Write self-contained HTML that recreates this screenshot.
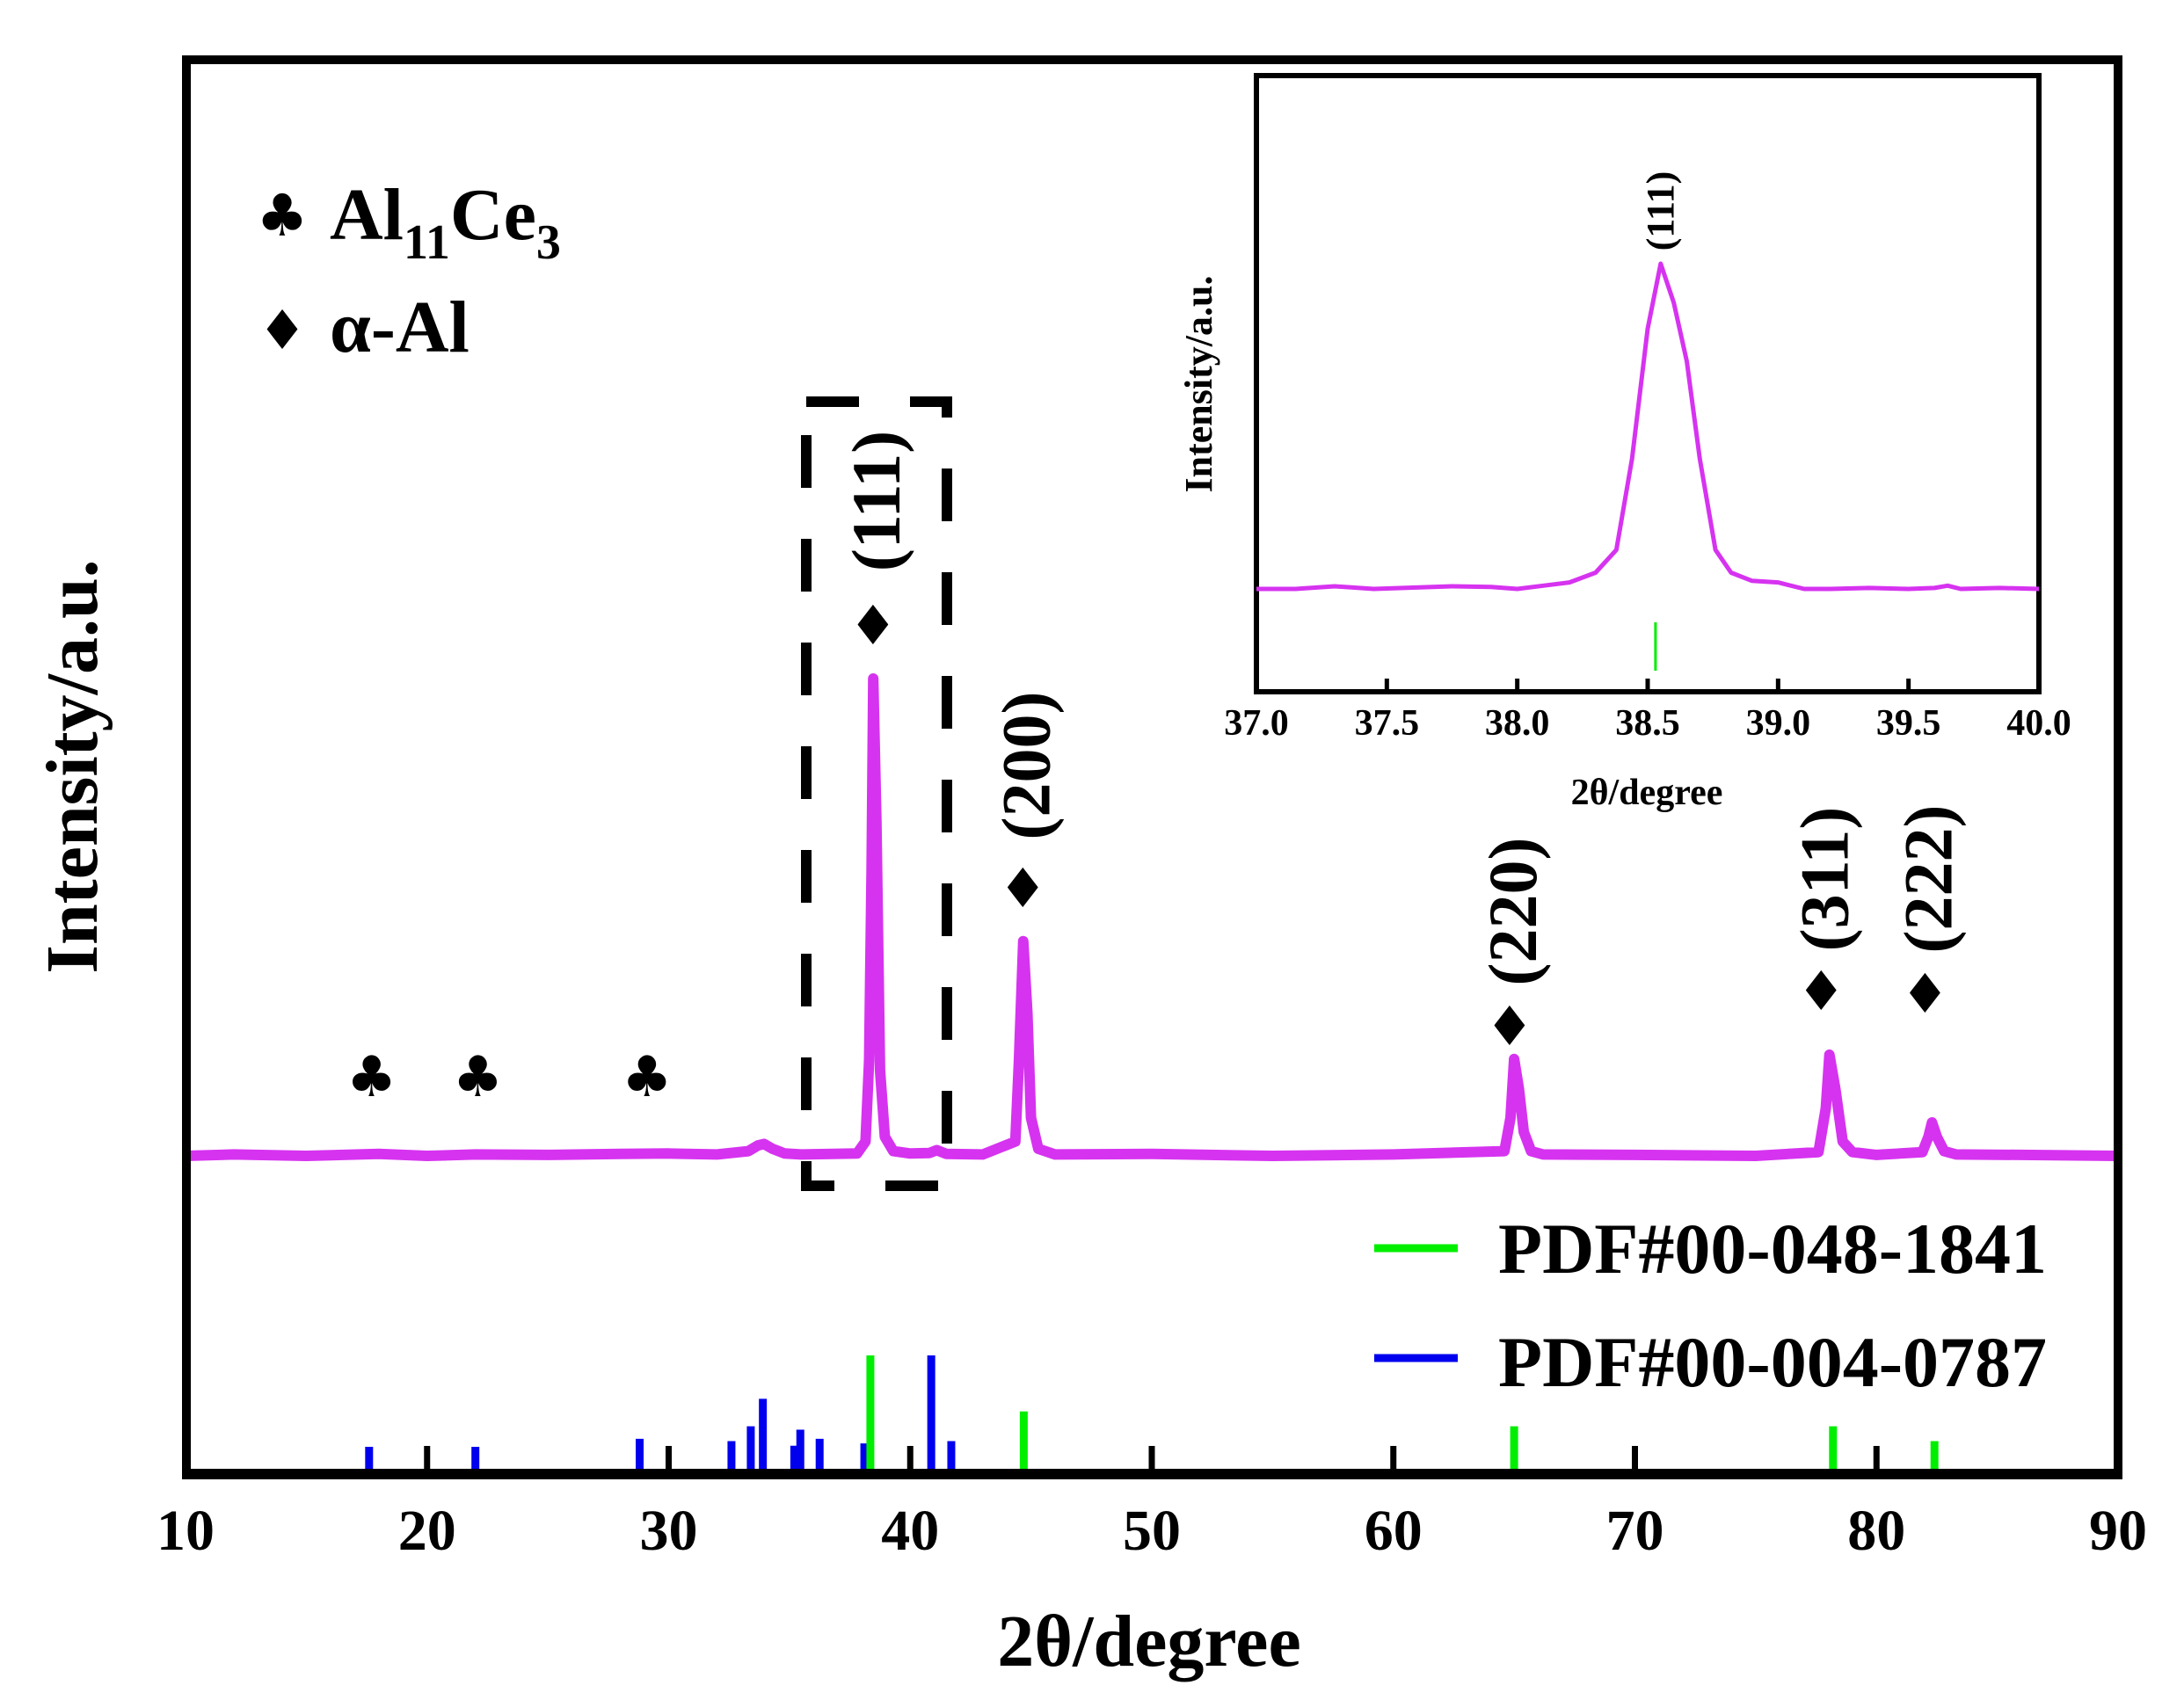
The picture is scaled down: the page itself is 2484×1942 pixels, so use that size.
<!DOCTYPE html>
<html><head><meta charset="utf-8"><style>
html,body{margin:0;padding:0;background:#fff;}
svg{display:block;}
text{font-family:"Liberation Serif",serif;font-weight:bold;fill:#000;}
</style></head><body>
<svg id="chart" width="2484" height="1942" viewBox="0 0 2484 1942" xmlns="http://www.w3.org/2000/svg">
<rect x="0" y="0" width="2484" height="1942" fill="#fff"/>
<g id="plot"></g>
<rect x="212" y="68" width="2197" height="1609" fill="none" stroke="#000" stroke-width="10"/>
<line x1="207" y1="1677" x2="2414" y2="1677" stroke="#000" stroke-width="12"/>
<g id="xticks"></g>
<text x="1307" y="1895" font-size="84" text-anchor="middle">2θ/degree</text>
<text transform="translate(110,872) rotate(-90)" font-size="84" text-anchor="middle">Intensity/a.u.</text>
<rect x="917" y="457" width="160" height="892" fill="none" stroke="#000" stroke-width="12" stroke-dasharray="60,58"/>
<g>
<text x="321" y="268" font-size="66" text-anchor="middle" style="font-family:'DejaVu Sans',sans-serif">♣</text>
<text x="375" y="272" font-size="84">Al<tspan font-size="56" dy="22">11</tspan><tspan dy="-22">Ce</tspan><tspan font-size="56" dy="22">3</tspan></text>
<text x="321" y="397" font-size="62" text-anchor="middle" style="font-family:'DejaVu Sans',sans-serif">♦</text>
<text x="375" y="400" font-size="84">α-Al</text>
</g>
<g>
<line x1="1563" y1="1420" x2="1658" y2="1420" stroke="#00ee00" stroke-width="9"/>
<text x="1704" y="1448" font-size="82">PDF#00-048-1841</text>
<line x1="1563" y1="1545" x2="1658" y2="1545" stroke="#0000ee" stroke-width="9"/>
<text x="1704" y="1577" font-size="82">PDF#00-004-0787</text>
</g>
<g id="labels"></g>
<rect x="1429" y="86" width="890" height="701" fill="#fff" stroke="#000" stroke-width="6"/>
<g id="inset"></g>
<text x="1873" y="915" font-size="42" text-anchor="middle">2θ/degree</text>
<text transform="translate(1378,437) rotate(-90)" font-size="44" text-anchor="middle">Intensity/a.u.</text>
</svg>
<script>
const NS="http://www.w3.org/2000/svg";
const mainX=[10,12,15,18,20,22,25,28,30,32,33.3,33.7,33.95,34.3,34.8,35.5,37.8,38.15,38.3,38.4,38.47,38.6,38.75,38.95,39.3,40,40.8,41.1,41.5,43,44.35,44.5,44.68,44.85,45.0,45.3,46,50,55,60,64.6,64.85,65.0,65.2,65.4,65.7,66.2,70,75,77.6,77.9,78.05,78.3,78.6,79.0,80,81.9,82.15,82.3,82.5,82.8,83.3,86,90];
const mainY=[0,0.3,0,0.4,0,0.3,0.2,0.4,0.5,0.3,1,2.2,2.5,1.5,0.5,0.3,0.5,3,20,60,100,70,18,4,1,0.5,0.6,1.2,0.4,0.3,3,20,45,30,8,1.5,0.3,0.4,0,0.3,1,8,20.3,14,5,1,0.3,0.2,0,0.8,10,21.2,14,3,0.8,0.2,0.8,4,7,4,1,0.3,0.2,0];
const greenPos=[38.35,44.7,65.0,78.2,82.4];
const greenInt=[100,51,38,38,25];
const bluePos=[17.6,22.0,28.8,32.6,33.4,33.9,35.2,35.45,36.25,38.1,40.87,41.7];
const blueInt=[20,20,27,25,38,62,21,35,27,23,100,25];
const xTicks=[10,20,30,40,50,60,70,80,90];
const peakLabels=["(111)","(200)","(220)","(311)","(222)"];
const peakLabelPos=[38.75,44.95,65.1,78.0,82.3];
const clubPos=[17.7,22.1,29.1];
const insetX=[37,37.15,37.3,37.45,37.6,37.75,37.9,38.0,38.1,38.2,38.3,38.38,38.44,38.5,38.55,38.6,38.65,38.7,38.76,38.82,38.9,39.0,39.1,39.2,39.35,39.5,39.6,39.65,39.7,39.85,40];
const insetY=[0,0,0.8,0,0.4,0.8,0.6,0,1,2,5,12,40,80,100,88,70,40,12,5,2.5,2,0,0,0.3,0,0.3,1,0,0.3,0];
const insetTicks=["37.0","37.5","38.0","38.5","39.0","39.5","40.0"];
const insetRef=[38.53];

const X=v=>211+(v-10)*2198/80;
const Y=v=>1315-v*5.43;
const SY=v=>1672-v*1.3;
const IX=v=>1429+(v-37)*890/3;
const IY=v=>670-v*3.7;
const labelCY=[570,871,1037,1000,1000];
const diamondY=[711,1010,1167,1127,1130];
function el(tag,attrs,parent,txt){const e=document.createElementNS(NS,tag);for(const k in attrs)e.setAttribute(k,attrs[k]);if(txt!==undefined)e.textContent=txt;parent.appendChild(e);return e;}
const plot=document.getElementById('plot');
for(let i=0;i<bluePos.length;i++){
 const l=el('line',{x1:X(bluePos[i]),x2:X(bluePos[i]),y1:1672,y2:SY(blueInt[i]),stroke:'#0000ee','stroke-width':9},plot);
 
 
}
for(let i=0;i<greenPos.length;i++){
 const l=el('line',{x1:X(greenPos[i]),x2:X(greenPos[i]),y1:1672,y2:SY(greenInt[i]),stroke:'#00ee00','stroke-width':9},plot);
 
 
}
let d='';
for(let i=0;i<mainX.length;i++){d+=(i?'L':'M')+X(mainX[i]).toFixed(1)+','+Y(mainY[i]).toFixed(1);}
const p=el('path',{d:d,fill:'none',stroke:'#d633f0','stroke-width':12,'stroke-linejoin':'round'},plot);


const xt=document.getElementById('xticks');
for(let i=0;i<xTicks.length;i++){
 const v=xTicks[i];
 if(i>0&&i<xTicks.length-1){
  const t=el('line',{x1:X(v),x2:X(v),y1:1672,y2:1645,stroke:'#000','stroke-width':7},xt);
  
  
 }
 const tl=el('text',{x:X(v),y:1763,'font-size':66,'text-anchor':'middle'},xt,String(v));
 
 
}
const lab=document.getElementById('labels');
for(let i=0;i<peakLabels.length;i++){
 const xv=X(peakLabelPos[i]);
 const dm=el('text',{x:xv-8,y:diamondY[i]+22,'font-size':62,'text-anchor':'middle',style:"font-family:'DejaVu Sans',sans-serif"},lab,'♦');
 
 
 const t=el('text',{transform:`translate(${xv+22},${labelCY[i]}) rotate(-90)`,'font-size':78,'text-anchor':'middle'},lab,peakLabels[i]);
 
 
}
for(let i=0;i<clubPos.length;i++){
 const c=el('text',{x:X(clubPos[i]),y:1247,'font-size':64,'text-anchor':'middle',style:"font-family:'DejaVu Sans',sans-serif"},lab,'♣');
 
 
}
const ins=document.getElementById('inset');
let di='';
for(let i=0;i<insetX.length;i++){di+=(i?'L':'M')+IX(insetX[i]).toFixed(1)+','+IY(insetY[i]).toFixed(1);}
const ip=el('path',{d:di,fill:'none',stroke:'#d633f0','stroke-width':5,'stroke-linejoin':'round'},ins);


for(let i=0;i<insetRef.length;i++){
 const r=el('line',{x1:IX(insetRef[i]),x2:IX(insetRef[i]),y1:708,y2:763,stroke:'#00ee00','stroke-width':3},ins);
 
 
}
for(let i=0;i<insetTicks.length;i++){
 const v=parseFloat(insetTicks[i]);
 if(i>0&&i<insetTicks.length-1){
  const t=el('line',{x1:IX(v),x2:IX(v),y1:784,y2:772,stroke:'#000','stroke-width':5},ins);
  
  
 }
 const tl=el('text',{x:IX(v),y:836,'font-size':42,'text-anchor':'middle'},ins,insetTicks[i]);
 
 
}
const it=el('text',{transform:`translate(${IX(38.55)+14},${IY(100)-60}) rotate(-90)`,'font-size':44,'text-anchor':'middle'},ins,'(111)');


</script>
</body></html>
